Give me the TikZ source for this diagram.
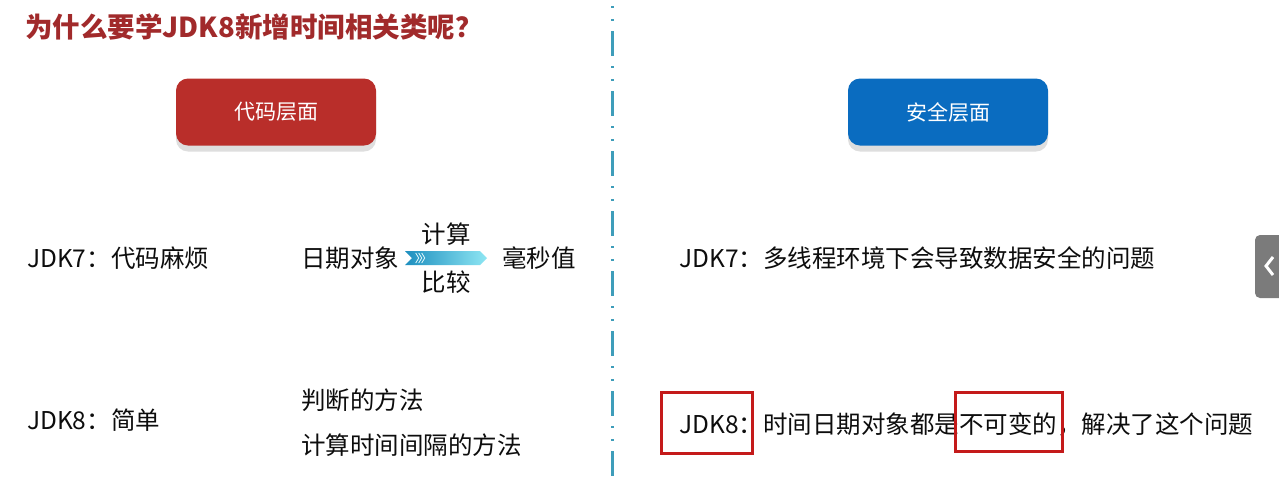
\documentclass[tikz,border=0pt]{standalone}
\usepackage{fontspec}
\setmainfont{Noto Sans CJK SC}
\usetikzlibrary{shapes.symbols, positioning, shadows, calc}

\definecolor{titlered}{HTML}{A12A2B}
\definecolor{codered}{HTML}{B92E2A}
\definecolor{safeblue}{HTML}{0A6CC0}
\definecolor{divblue}{HTML}{3E9DBA}
\definecolor{tabgray}{HTML}{7B7B7B}
\definecolor{boxred}{HTML}{C41A1A}
\definecolor{arrdark}{HTML}{1E8FBF}
\definecolor{arrlight}{HTML}{8EE6F3}

\begin{document}
\begin{tikzpicture}[
      x=1pt, y=-1pt,
      body/.style={anchor=west, inner sep=0pt, font=\fontsize{24.5}{28}\selectfont, text=black!95},
      label/.style={inner sep=0pt, font=\fontsize{24.5}{28}\selectfont, text=black!95},
      button/.style={rectangle, rounded corners=12pt, minimum width=200pt, minimum height=67pt,
        font=\fontsize{21}{25}\selectfont, text=white,
        drop shadow={shadow xshift=0pt, shadow yshift=-6pt, fill=black!13, opacity=1}},
      hilite/.style={draw=boxred, line width=3pt},
      divider/.style={draw=divblue, line width=3pt,
        dash pattern=on 25pt off 10pt on 2pt off 11pt on 2pt off 10pt, dash phase=29pt}
    ]
    \useasboundingbox[fill=white] (0,0) rectangle (1279,483);

    \node[anchor=west, inner sep=0pt, font=\bfseries\fontsize{27.5}{32}\selectfont, text=titlered] (title) at (25,27) {为什么要学JDK8新增时间相关类呢？};

    % divider
    \coordinate (divtop) at (612,0);
    \coordinate (divbot) at (612,483);
    \draw[divider] (divtop) -- (divbot);

    \node[button, fill=codered] (code) at (276,112) {代码层面};
    \node[button, fill=safeblue] (safe) at (948,112) {安全层面};

    % JDK7 row
    \node[body] (jdk7l) at (27,258) {JDK7：代码麻烦};
    \node[body] (date) at (301,258) {日期对象};
    \node[signal, signal to=east, signal from=west, minimum width=82pt, minimum height=14pt,
          inner sep=0pt, left color=arrdark, right color=arrlight] (arr) at (446,258) {};
    \foreach \i in {0,1,2}
      \draw[white!80!arrlight, line width=0.8pt] ($(arr.west)+(\i*3+4,-5)$) -- ++(3,5) -- ++(-3,5);
    \node[label, above=5pt of arr] (calc) {计算};
    \node[label, below=5pt of arr] (cmp) {比较};
    \node[body, right=15pt of arr] (ms) {毫秒值};
    \node[body] (jdk7r) at (679,258) {JDK7：多线程环境下会导致数据安全的问题};

    % JDK8 row
    \node[body] (jdk8l) at (27,420) {JDK8：简单};
    \node[body] (judge) at (301,400) {判断的方法};
    \node[body] (span) at (301,445) {计算时间间隔的方法};
    \node[body] (jdk8r) at (679,424) {JDK8：时间日期对象都是不可变的，解决了这个问题};
    \draw[hilite] (661,392) rectangle (752,453);
    \draw[hilite] (955,392) rectangle (1062,451);

    % side tab
    \fill[tabgray, rounded corners=5pt] (1255,235) rectangle (1292,298);
    \draw[white, line width=3pt] (1273,257) -- (1266,266) -- (1273,275);
  \end{tikzpicture}
\end{document}
